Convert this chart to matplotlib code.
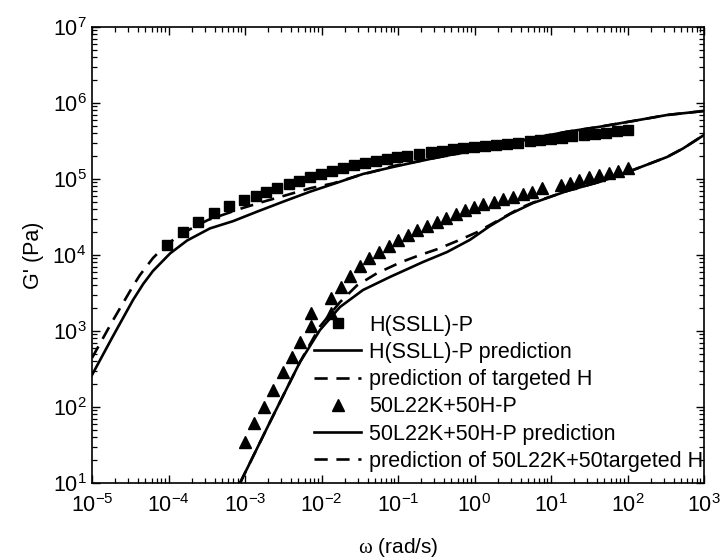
import numpy as np
import matplotlib
matplotlib.use("Agg")
import matplotlib.pyplot as plt

plt.rcParams['font.family'] = ['Liberation Sans', 'DejaVu Sans']
plt.rcParams['mathtext.fontset'] = 'custom'
plt.rcParams['mathtext.rm'] = 'Liberation Serif'
plt.rcParams['mathtext.it'] = 'Liberation Sans:italic'

# ---- data (log10 values) ----
h_exp_logw = [-4.016, -3.81, -3.61, -3.41, -3.21, -3.01, -2.86, -2.72, -2.58, -2.43,
              -2.29, -2.15, -2.01, -1.86, -1.715, -1.575, -1.43, -1.29, -1.15, -1.01,
              -0.88, -0.72, -0.57, -0.43, -0.285, -0.146, -0.007, 0.137, 0.28, 0.43,
              0.57, 0.72, 0.86, 1.00, 1.14, 1.28, 1.43, 1.57, 1.715, 1.86, 2.00]
h_exp_logG = [4.13, 4.30, 4.43, 4.55, 4.64, 4.73, 4.78, 4.83, 4.88, 4.93,
              4.98, 5.02, 5.07, 5.11, 5.15, 5.18, 5.21, 5.24, 5.26, 5.29,
              5.30, 5.33, 5.35, 5.37, 5.39, 5.41, 5.42, 5.43, 5.45, 5.46,
              5.48, 5.50, 5.51, 5.52, 5.54, 5.56, 5.58, 5.59, 5.61, 5.63, 5.64]

b_exp_logw = [-3.000, -2.882, -2.756, -2.630, -2.507, -2.382, -2.275, -2.137, -2.137, -1.880,
              -1.876, -1.745, -1.627, -1.501, -1.375, -1.244, -1.122, -0.996, -0.873, -0.748,
              -0.621, -0.494, -0.369, -0.242, -0.120, -0.007, 0.115, 0.255, 0.376, 0.499,
              0.630, 0.756, 0.878, 1.127, 1.248, 1.370, 1.497, 1.627, 1.758, 1.880, 2.003]
b_exp_logG = [1.543, 1.786, 2.004, 2.224, 2.467, 2.658, 2.859, 3.066, 3.241, 3.233,
              3.430, 3.583, 3.724, 3.855, 3.957, 4.043, 4.118, 4.197, 4.263, 4.329,
              4.386, 4.438, 4.483, 4.536, 4.592, 4.636, 4.667, 4.701, 4.733, 4.767,
              4.799, 4.833, 4.878, 4.921, 4.951, 4.987, 5.022, 5.053, 5.075, 5.109, 5.141]

h_pred_logw = [-5.0, -4.739, -4.464, -4.33, -4.203, -3.980, -3.758, -3.458, -3.157, -2.843,
               -2.503, -2.150, -1.797, -1.458, -1.105, -0.843, -0.542, -0.098, 0.333, 0.765,
               1.209, 1.641, 2.072, 2.516, 3.0]
h_pred_logG = [2.421, 2.908, 3.408, 3.62, 3.790, 4.020, 4.190, 4.350, 4.445, 4.570,
               4.701, 4.833, 4.951, 5.066, 5.149, 5.207, 5.272, 5.359, 5.447, 5.536,
               5.622, 5.688, 5.763, 5.842, 5.895]

h_targ_logw = [-5.0, -4.739, -4.464, -4.373, -4.203, -4.072, -3.889, -3.784, -3.614, -3.484,
               -3.043, -2.761, -2.455, -2.150, -1.846, -1.540, -1.278, -1.061, -0.542, -0.098,
               0.333, 0.765, 1.209, 1.641, 2.072, 2.516, 3.0]
h_targ_logG = [2.645, 3.118, 3.592, 3.737, 3.960, 4.092, 4.240, 4.303, 4.395, 4.461,
               4.614, 4.701, 4.789, 4.878, 4.943, 5.039, 5.109, 5.171, 5.272, 5.359,
               5.447, 5.536, 5.622, 5.688, 5.763, 5.842, 5.895]

b_pred_logw = [-3.065, -2.673, -2.281, -2.020, -1.758, -1.458, -1.105, -0.673, -0.359, -0.059,
               0.20, 0.464, 0.765, 1.209, 1.641, 2.072, 2.516, 2.725, 3.0]
b_pred_logG = [1.0, 1.803, 2.592, 3.013, 3.316, 3.539, 3.711, 3.908, 4.039, 4.200,
               4.380, 4.539, 4.684, 4.842, 4.964, 5.118, 5.289, 5.401, 5.579]

b_targ_logw = [-3.065, -2.673, -2.281, -2.020, -1.758, -1.536, -1.275, -0.974, -0.739, -0.477,
               -0.190, 0.033, 0.30, 0.600, 0.765, 1.209, 1.641, 2.072, 2.516, 2.725, 3.0]
b_targ_logG = [1.0, 1.803, 2.592, 3.060, 3.380, 3.600, 3.760, 3.900, 3.990, 4.080,
               4.200, 4.300, 4.450, 4.620, 4.690, 4.842, 4.964, 5.118, 5.289, 5.401, 5.579]

labels = ["H(SSLL)-P", "H(SSLL)-P prediction", "prediction of targeted H",
          "50L22K+50H-P", "50L22K+50H-P prediction", "prediction of 50L22K+50targeted H"]

def p(a):
    return np.power(10.0, np.asarray(a))

fig = plt.figure(figsize=(7.25, 5.6), dpi=100)
ax = fig.add_axes([92/725, 77/560, 612/725, 456/560])

lw = 1.9
dash = (0, (5, 3.3))
ax.plot(p(h_exp_logw), p(h_exp_logG), 's', color='black', ms=7.4, ls='none', label=labels[0])
ax.plot(p(h_pred_logw), p(h_pred_logG), '-', color='black', lw=lw, label=labels[1])
ax.plot(p(h_targ_logw), p(h_targ_logG), color='black', lw=lw, ls=dash, label=labels[2])
ax.plot(p(b_exp_logw), p(b_exp_logG), '^', color='black', ms=8.8, ls='none', label=labels[3])
ax.plot(p(b_pred_logw), p(b_pred_logG), '-', color='black', lw=lw, label=labels[4])
ax.plot(p(b_targ_logw), p(b_targ_logG), color='black', lw=lw, ls=dash, label=labels[5])

ax.set_xscale('log')
ax.set_yscale('log')
ax.set_xlim(1e-5, 1e3)
ax.set_ylim(1e1, 1e7)
ax.set_xticks([10.0**k for k in range(-5, 4)])
ax.set_yticks([10.0**k for k in range(1, 8)])

ax.tick_params(which='both', direction='in', top=True, right=True)
ax.tick_params(which='major', length=6, width=1.0, labelsize=15.5)
ax.tick_params(axis='x', which='major', pad=8)
ax.tick_params(axis='y', which='major', pad=4)
ax.tick_params(which='minor', length=3.5, width=0.9)
for s in ax.spines.values():
    s.set_linewidth(1.2)

ax.set_xlabel(r'$\mathrm{\omega}$ (rad/s)', fontsize=15, labelpad=14)
ax.set_ylabel("G' (Pa)", fontsize=15.5, labelpad=6)

leg = ax.legend(loc='upper left', bbox_to_anchor=(0.3627, 0.369), frameon=False,
                fontsize=15.5, handlelength=2.19, handletextpad=0.37, labelspacing=0.29,
                borderpad=0, borderaxespad=0, numpoints=1)

fig.savefig('out.png', dpi=100)
